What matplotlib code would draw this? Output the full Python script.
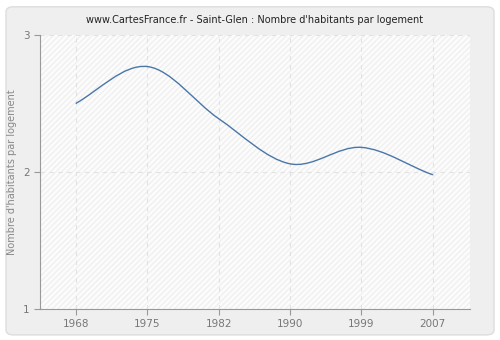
import matplotlib.pyplot as plt
import numpy as np
from matplotlib.path import Path
from matplotlib.patches import PathPatch, FancyBboxPatch

# Données
annees = ['1968', '1975', '1982', '1990', '1999', '2007']
valeurs = [2.50, 2.77, 2.39, 2.06, 2.18, 1.98]

fig = plt.figure(figsize=(5, 3.4), dpi=100)
fig.patch.set_facecolor('white')

# fond arrondi
fond = FancyBboxPatch((0.012, 0.015), 0.976, 0.965, boxstyle='round,pad=0,rounding_size=0.015',
                      transform=fig.transFigure, facecolor='#efefef', edgecolor='#dddddd',
                      lw=1, zorder=-10)
fig.add_artist(fond)

ax = fig.add_axes([0.08, 0.091, 0.86, 0.806])
ax.set_facecolor('#fcfcfc')
ax.patch.set_hatch('//////')
ax.patch.set_edgecolor('#f0f0f0')
ax.patch.set_linewidth(0)

x = np.arange(len(annees))
y = np.array(valeurs)

# courbe lissée (tangentes type Catmull-Rom)
m = np.zeros(len(y))
for i in range(1, len(y) - 1):
    m[i] = (y[i + 1] - y[i - 1]) / 2
m[0] = (y[1] - y[0]) - m[1] / 2
m[-1] = (y[-1] - y[-2]) - m[-2] / 2

verts = [(x[0], y[0])]
codes = [Path.MOVETO]
for i in range(len(x) - 1):
    dx = x[i + 1] - x[i]
    verts += [(x[i] + dx / 3, y[i] + m[i] * dx / 3),
              (x[i + 1] - dx / 3, y[i + 1] - m[i + 1] * dx / 3),
              (x[i + 1], y[i + 1])]
    codes += [Path.CURVE4] * 3
ax.add_patch(PathPatch(Path(verts, codes), facecolor='none', edgecolor='#4a76a8', lw=1))

ax.set_xlim(-0.5, len(annees) - 0.5 + 0.02)
ax.set_ylim(1, 3)
ax.set_xticks(x)
ax.set_xticklabels(annees)
ax.set_yticks([1, 2, 3])

ax.grid(True, color='#e2e2e2', linestyle=(0, (4, 4)), lw=0.8)
ax.set_axisbelow(True)
for s in ['top', 'right']:
    ax.spines[s].set_visible(False)
for s in ['left', 'bottom']:
    ax.spines[s].set_color('#999999')
ax.tick_params(colors='#999999', labelcolor='#777777', labelsize=7.5, length=4, width=0.8)

ax.set_ylabel("Nombre d'habitants par logement", fontsize=7, color='#888888')
ax.set_title("www.CartesFrance.fr - Saint-Glen : Nombre d'habitants par logement",
             fontsize=7, color='#222222', pad=9)

plt.savefig('out.png', dpi=100, facecolor=fig.get_facecolor())
